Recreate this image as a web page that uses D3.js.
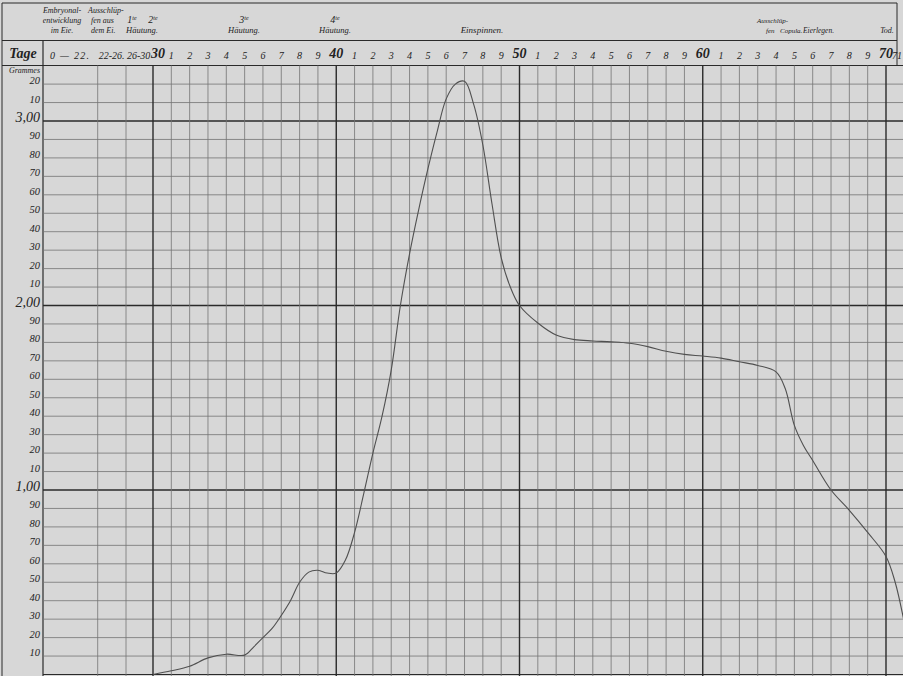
<!DOCTYPE html>
<html>
<head>
    <meta charset="utf-8">
    <script src="https://d3js.org/d3.v7.min.js"></script>
    <style>
        body { margin:0; background:#d7d7d7; }
        svg { display:block; }
        text { font-family:"Liberation Serif", serif; font-style:italic; fill:#222; }
    </style>
</head>
<body>
    <svg width="903" height="676"></svg>
    <script>
        // weight of one animal in grams, per day (curve)
        const days = [30, 31, 32, 33, 34, 35, 35.5, 36, 36.5, 37, 37.5, 38, 38.5, 39, 39.5, 40,
            40.5, 41, 41.5, 42, 42.5, 43, 43.5, 44, 44.5, 45, 45.5, 46, 46.5, 47, 47.5, 48, 48.5,
            49, 49.5, 50, 51, 52, 53, 54, 55, 56, 57, 58, 59, 60, 61, 62, 63, 64, 64.5, 65,
            65.5, 66, 67, 68, 69, 70, 70.5, 71]
        const grams = [0, 2, 4.5, 9, 11, 10.5, 15, 20, 25, 32, 40, 50, 55.5, 56.5, 55, 55,
            62, 77, 98, 120, 140, 165, 200, 228, 252, 274, 294, 312, 320, 321.5, 309, 287, 255,
            226, 210, 200, 190.5, 184, 181.5, 180.8, 180.3, 179.5, 177.7, 175.2, 173.5, 172.6, 171.5, 169.5, 167.5, 164, 155, 135,
            124, 116, 100, 89, 77, 64, 50, 28]

        // early period columns (before day 30)
        const earlyLabels = ["0 \u2014 22.", "22-26.", "26-30"]
        // top header notes: [text lines, x, anchor, first row, size]
        const notes = [
            [["Embryonal-", "entwicklung", "im Eie."], 62, "middle", 0, 8],
            [["Ausschl\u00fcp-"], 88, "start", 0, 8],
            [["fen aus", "dem Ei."], 91, "start", 1, 8],
            [["1te"], 132, "middle", 1],
            [["2te"], 153, "middle", 1],
            [["H\u00e4utung."], 142, "middle", 2, 8.5],
            [["3te", "H\u00e4utung."], 244, "middle", 1, 8.5],
            [["4te", "H\u00e4utung."], 335, "middle", 1, 8.5],
            [["Einspinnen."], 482, "middle", 2, 9],
            [["Ausschl\u00fcp-"], 757, "start", 1, 7],
            [["fen"], 766, "start", 2, 7],
            [["Copula."], 780, "start", 2, 7],
            [["Eierlegen."], 803, "start", 2, 7.5],
            [["Tod."], 887, "middle", 2, 8]
        ]

        const svg = d3.select("svg")
        const W = 903, H = 676
        const plotTop = 65.5, plotBottom = 674.5, left = 43

        const x = d3.scaleLinear().domain([30, 70]).range([153, 886])
        const y = d3.scaleLinear().domain([0, 300]).range([plotBottom, 121])
        const earlyEdges = [left, 97.7, 126, 153]

        const dark = "#2a2a2a", thin = "#737373"

        // header frame
        svg.append("line").attr("x1", 2).attr("x2", 897).attr("y1", 3).attr("y2", 3).attr("stroke", dark).attr("stroke-width", 1.2)
        svg.append("line").attr("x1", 2).attr("x2", 897).attr("y1", 40.5).attr("y2", 40.5).attr("stroke", dark).attr("stroke-width", 1.2)
        svg.append("line").attr("x1", 2).attr("x2", W).attr("y1", plotTop).attr("y2", plotTop).attr("stroke", dark).attr("stroke-width", 1.2)
        svg.append("line").attr("x1", 897).attr("x2", 897).attr("y1", 3).attr("y2", plotTop).attr("stroke", dark).attr("stroke-width", 1)
        svg.append("line").attr("x1", 2).attr("x2", 2).attr("y1", 3).attr("y2", H).attr("stroke", dark).attr("stroke-width", 1)
        svg.append("line").attr("x1", left).attr("x2", left).attr("y1", 40.5).attr("y2", H).attr("stroke", dark).attr("stroke-width", 1.2)

        // horizontal grid, every 10 g
        const hv = d3.range(10, 330, 10)
        svg.selectAll("line.h").data(hv).enter().append("line")
            .attr("class", "h")
            .attr("x1", left).attr("x2", W)
            .attr("y1", d => y(d)).attr("y2", d => y(d))
            .attr("stroke", d => d % 100 == 0 ? dark : thin)
            .attr("stroke-width", d => d % 100 == 0 ? 1.4 : 0.8)
        svg.append("line").attr("x1", left).attr("x2", W).attr("y1", plotBottom).attr("y2", plotBottom)
            .attr("stroke", dark).attr("stroke-width", 1.2)

        // vertical grid
        svg.selectAll("line.e").data(earlyEdges.slice(1, 3)).enter().append("line")
            .attr("class", "e")
            .attr("x1", d => d).attr("x2", d => d).attr("y1", plotTop).attr("y2", H)
            .attr("stroke", thin).attr("stroke-width", 0.8)
        const dv = d3.range(30, 72)
        svg.selectAll("line.v").data(dv).enter().append("line")
            .attr("class", "v")
            .attr("x1", d => x(d)).attr("x2", d => x(d))
            .attr("y1", plotTop).attr("y2", H)
            .attr("stroke", d => d % 10 == 0 ? dark : thin)
            .attr("stroke-width", d => d % 10 == 0 ? 1.4 : 0.8)

        // weight curve
        const line = d3.line()
            .x((d, i) => x(days[i]))
            .y(d => y(d))
            .curve(d3.curveCatmullRom.alpha(0.5))
        svg.append("path")
            .datum(grams)
            .attr("d", line)
            .attr("fill", "none")
            .attr("stroke", "#505050")
            .attr("stroke-width", 1.1)

        // y labels
        svg.append("text").attr("x", 40).attr("y", 73).attr("text-anchor", "end")
            .style("font-size", "8px").text("Grammes")
        svg.selectAll("text.yl").data(hv).enter().append("text")
            .attr("class", "yl")
            .attr("x", 40)
            .attr("y", d => y(d) + (d % 100 == 0 ? 1 : 0))
            .attr("text-anchor", "end")
            .style("font-size", d => d % 100 == 0 ? "14px" : "10.5px")
            .text(d => d % 100 == 0 ? (d / 100) + ",00" : d3.format("02")(d % 100))

        // x labels
        svg.append("text").attr("x", 23).attr("y", 58).attr("text-anchor", "middle")
            .style("font-size", "14px").style("font-weight", "bold").text("Tage")
        svg.selectAll("text.el").data(earlyLabels).enter().append("text")
            .attr("class", "el")
            .attr("x", (d, i) => i == 0 ? 50 : earlyEdges[i] + 1)
            .attr("y", 59)
            .attr("textLength", (d, i) => i == 0 ? 39 : null)
            .attr("lengthAdjust", "spacing")
            .style("font-size", "10px")
            .text(d => d)
        svg.selectAll("text.xl").data(dv).enter().append("text")
            .attr("class", "xl")
            .attr("x", d => d == 71 ? W - 1 : x(d) + (d == 30 ? 5 : 0))
            .attr("y", d => d % 10 == 0 ? 58 : 59)
            .attr("text-anchor", d => d == 71 ? "end" : "middle")
            .style("font-size", d => d % 10 == 0 ? "14px" : "10px")
            .style("font-weight", d => d % 10 == 0 ? "bold" : "normal")
            .text(d => d % 10 == 0 || d == 71 ? d : d % 10)

        // header notes
        notes.forEach(n => {
            const start = n[3] || 0
            n[0].forEach((t, j) => {
                const tx = svg.append("text")
                    .attr("x", n[1]).attr("y", 13 + (start + j) * 10)
                    .attr("text-anchor", n[2])
                    .style("font-size", (n[4] || 8) + "px")
                if (/^\dte$/.test(t)) {
                    tx.style("font-size", "10px").text(t[0])
                    tx.append("tspan").attr("dy", -3).style("font-size", "6px").text("te")
                } else tx.text(t)
            })
        })
    </script>
</body>
</html>
